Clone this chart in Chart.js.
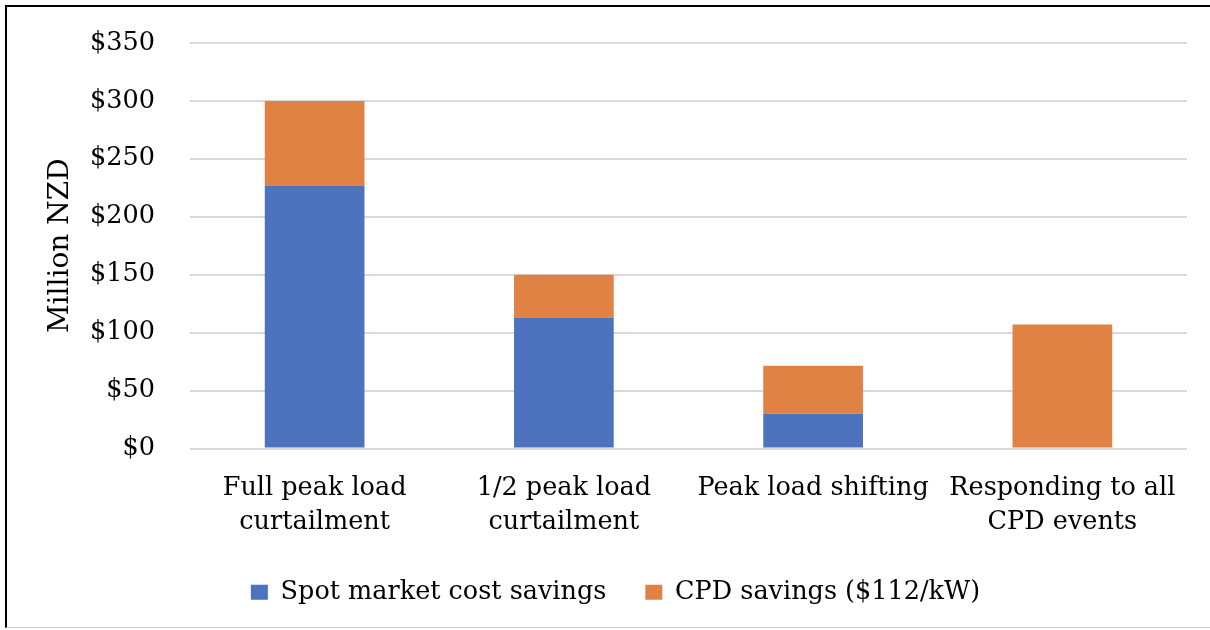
<!DOCTYPE html>
<html>
<head>
<meta charset="utf-8">
<script src="https://cdn.jsdelivr.net/npm/chart.js@4"></script>
<style>
    html, body { margin: 0; padding: 0; background: #fff; }
    #frame {
        position: absolute; left: 5px; top: 5px; width: 1210px; height: 623px;
        border-left: 2px solid #000; border-top: 2px solid #000; border-bottom: 1px solid #d0d0d0;
        box-sizing: border-box;
    }
    #wrap { position: absolute; left: 0; top: 0; width: 1210px; height: 630px; }
</style>
</head>
<body>
<div id="frame"></div>
<div id="wrap"><canvas id="savings-chart"></canvas></div>
<script>
// chart data
const categories = [
    ['Full peak load', 'curtailment'],
    ['1/2 peak load', 'curtailment'],
    ['Peak load shifting'],
    ['Responding to all', 'CPD events']
];
const spotSavings = [226.5, 113, 30, 0];
const cpdSavings = [73.5, 37, 41.5, 107];
const yTicks = [0, 50, 100, 150, 200, 250, 300, 350];

const serif = "'DejaVu Serif', 'Liberation Serif', serif";

const ctx = document.getElementById('savings-chart');
new Chart(ctx, {
    type: 'bar',
    data: {
        labels: categories,
        datasets: [{
            label: 'Spot market cost savings',
            data: spotSavings,
            backgroundColor: '#4D72BE',
            barPercentage: 0.8,
            categoryPercentage: 0.5
        }, {
            label: 'CPD savings ($112/kW)',
            data: cpdSavings,
            backgroundColor: '#E08244',
            barPercentage: 0.8,
            categoryPercentage: 0.5
        }]
    },
    options: {
        responsive: true,
        maintainAspectRatio: false,
        animation: false,
        layout: {
            padding: { left: 44, right: 23, top: 43, bottom: 15 }
        },
        plugins: {
            legend: {
                position: 'bottom',
                labels: {
                    font: { family: serif, size: 25.5 },
                    color: '#000',
                    boxWidth: 17,
                    boxHeight: 15,
                    padding: 39
                }
            },
            tooltip: { enabled: false }
        },
        scales: {
            x: {
                stacked: true,
                grid: { display: false, drawTicks: false },
                border: { display: false },
                afterFit: (scale) => { scale.height = 92; },
                ticks: {
                    font: { family: serif, size: 25.5, lineHeight: 1.33 },
                    color: '#000',
                    padding: 23,
                    maxRotation: 0,
                    autoSkip: false
                }
            },
            y: {
                stacked: true,
                min: 0,
                max: 350,
                afterBuildTicks: (axis) => {
                    axis.ticks = yTicks.map(v => ({ value: v }));
                },
                afterFit: (scale) => { scale.width = 146; },
                grid: {
                    color: '#d9d9d9',
                    lineWidth: 2,
                    drawTicks: true,
                    tickLength: 29,
                    tickColor: 'rgba(0,0,0,0)'
                },
                border: { display: false },
                ticks: {
                    font: { family: serif, size: 25.5 },
                    color: '#000',
                    padding: 6,
                    callback: (v) => '$' + v
                },
                title: {
                    display: true,
                    text: 'Million NZD',
                    font: { family: serif, size: 28 },
                    color: '#000',
                    padding: { top: 0, bottom: 0 }
                }
            }
        }
    }
});
</script>
</body>
</html>
